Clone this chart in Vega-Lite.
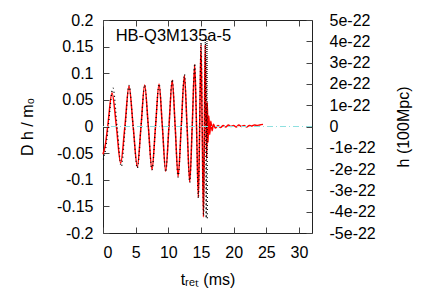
{
  "$schema": "https://vega.github.io/schema/vega-lite/v6.json",
  "width": 209,
  "height": 213,
  "autosize": {"type": "none"},
  "padding": {"left": 103, "top": 20, "right": 124, "bottom": 72},
  "background": "white",
  "config": {
    "view": {"stroke": "#222", "strokeWidth": 1},
    "font": "Liberation Sans",
    "axis": {
      "labelFont": "Liberation Sans", "labelFontSize": 16, "labelColor": "#000", "labelOverlap": false,
      "titleFont": "Liberation Sans", "titleFontSize": 16, "titleFontWeight": "normal", "titleColor": "#000",
      "domain": false, "grid": false, "tickColor": "#444", "tickSize": -6
    }
  },
  "datasets": {
    "nr": [
      {"t": 0, "h": -0.052}, {"t": 0.35, "h": -0.035}, {"t": 0.72, "h": 0}, {"t": 1.38, "h": 0.063},
      {"t": 2.05, "h": 0}, {"t": 2.7, "h": -0.069}, {"t": 3.35, "h": 0}, {"t": 3.98, "h": 0.076},
      {"t": 4.62, "h": 0}, {"t": 5.26, "h": -0.076}, {"t": 5.82, "h": 0}, {"t": 6.38, "h": 0.078},
      {"t": 6.94, "h": 0}, {"t": 7.5, "h": -0.081}, {"t": 8.04, "h": 0}, {"t": 8.58, "h": 0.08},
      {"t": 9.09, "h": 0}, {"t": 9.6, "h": -0.084}, {"t": 10.1, "h": 0}, {"t": 10.6, "h": 0.087},
      {"t": 11.05, "h": 0}, {"t": 11.5, "h": -0.094}, {"t": 11.98, "h": 0}, {"t": 12.46, "h": 0.096},
      {"t": 12.87, "h": 0}, {"t": 13.28, "h": -0.104}, {"t": 13.66, "h": 0}, {"t": 14.04, "h": 0.116},
      {"t": 14.32, "h": 0}, {"t": 14.6, "h": -0.133}, {"t": 14.8, "h": 0}, {"t": 15.0, "h": 0.154},
      {"t": 15.18, "h": 0}, {"t": 15.38, "h": -0.17}, {"t": 15.52, "h": 0}, {"t": 15.65, "h": 0.154},
      {"t": 15.78, "h": 0}, {"t": 15.88, "h": -0.06}, {"t": 15.98, "h": 0.045}, {"t": 16.08, "h": -0.03},
      {"t": 16.2, "h": 0.02}, {"t": 16.35, "h": -0.015}, {"t": 16.5, "h": 0.01}, {"t": 16.7, "h": -0.008},
      {"t": 16.9, "h": 0.004}, {"t": 17.2, "h": -0.003}, {"t": 17.6, "h": 0.002}, {"t": 18.0, "h": -0.002},
      {"t": 18.4, "h": 0.002}, {"t": 18.8, "h": -0.001}, {"t": 19.2, "h": 0.003}, {"t": 19.6, "h": 0.0},
      {"t": 20.0, "h": 0.002}, {"t": 20.4, "h": -0.001}, {"t": 20.8, "h": 0.003}, {"t": 21.2, "h": 0.0},
      {"t": 21.6, "h": 0.002}, {"t": 22.0, "h": -0.001}, {"t": 22.4, "h": 0.002}, {"t": 22.8, "h": 0.001},
      {"t": 23.2, "h": 0.003}, {"t": 23.6, "h": 0.002}, {"t": 24.0, "h": 0.003}, {"t": 24.5, "h": 0.004}
    ],
    "model": [
      {"t": 0.05, "h": -0.062}, {"t": 0.4, "h": -0.042}, {"t": 0.8, "h": 0}, {"t": 1.53, "h": 0.072},
      {"t": 2.15, "h": 0}, {"t": 2.8, "h": -0.075}, {"t": 3.4, "h": 0}, {"t": 3.98, "h": 0.077},
      {"t": 4.62, "h": 0}, {"t": 5.26, "h": -0.078}, {"t": 5.82, "h": 0}, {"t": 6.38, "h": 0.078},
      {"t": 6.94, "h": 0}, {"t": 7.5, "h": -0.081}, {"t": 8.04, "h": 0}, {"t": 8.58, "h": 0.08},
      {"t": 9.09, "h": 0}, {"t": 9.6, "h": -0.085}, {"t": 10.1, "h": 0}, {"t": 10.6, "h": 0.088},
      {"t": 11.05, "h": 0}, {"t": 11.5, "h": -0.095}, {"t": 11.98, "h": 0}, {"t": 12.46, "h": 0.098},
      {"t": 12.87, "h": 0}, {"t": 13.28, "h": -0.105}, {"t": 13.66, "h": 0}, {"t": 14.04, "h": 0.118},
      {"t": 14.32, "h": 0}, {"t": 14.6, "h": -0.135}, {"t": 14.8, "h": 0}, {"t": 15.02, "h": 0.158},
      {"t": 15.2, "h": 0}, {"t": 15.4, "h": -0.168}, {"t": 15.55, "h": 0}, {"t": 15.68, "h": 0.163},
      {"t": 15.74, "h": 0}, {"t": 15.8, "h": -0.172}, {"t": 15.86, "h": 0}, {"t": 15.92, "h": 0.165},
      {"t": 15.95, "h": 0}, {"t": 15.98, "h": -0.176}
    ]
  },
  "layer": [
    {
      "encoding": {
        "x": {"field": "t", "type": "quantitative", "scale": {"domain": [0, 32], "nice": false},
              "axis": {"orient": "bottom", "values": [0, 5, 10, 15, 20, 25, 30], "title": "tᵣₑₜ (ms)", "labelPadding": 17, "titlePadding": 11}},
        "y": {"field": "h", "type": "quantitative", "scale": {"domain": [-0.2, 0.2], "nice": false},
              "axis": {"orient": "left", "values": [-0.2, -0.15, -0.1, -0.05, 0, 0.05, 0.1, 0.15, 0.2],
                       "labelExpr": "(datum.value < 0 ? '-' : '') + format(abs(datum.value), '~g')",
                       "title": "D h / m₀", "labelPadding": 16, "titlePadding": 21}}
      },
      "layer": [
        {
          "data": {"name": "nr"},
          "mark": {"type": "line", "color": "#ff0000", "strokeWidth": 1.5, "interpolate": "monotone"}
        },
        {
          "data": {"name": "model"},
          "mark": {"type": "line", "color": "#000000", "strokeWidth": 1.3, "strokeDash": [1, 3], "interpolate": "monotone"},
          "encoding": {
            "x": {"field": "t", "type": "quantitative", "axis": null}
          }
        },
        {
          "data": {"values": [{"label": "HB-Q3M135a-5", "t": 1.94, "h": 0.16}]},
          "mark": {"type": "text", "align": "left", "baseline": "alphabetic", "fontSize": 16.5, "font": "Liberation Sans", "color": "#000"},
          "encoding": {
            "x": {"field": "t", "type": "quantitative",
                  "axis": {"orient": "top", "values": [0, 5, 10, 15, 20, 25, 30], "labels": false, "title": null}},
            "text": {"field": "label"}
          }
        }
      ],
      "resolve": {"axis": {"x": "independent"}}
    },
    {
      "data": {"values": [{"z": 0}]},
      "mark": {"type": "rule", "color": "#8ee0e0", "strokeWidth": 1, "strokeDash": [6, 3, 1, 3]},
      "encoding": {
        "y": {"field": "z", "type": "quantitative", "scale": {"domain": [-5e-22, 5e-22], "nice": false},
              "axis": {"orient": "right",
                       "values": [-5e-22, -4e-22, -3e-22, -2e-22, -1e-22, 0, 1e-22, 2e-22, 3e-22, 4e-22, 5e-22],
                       "labelExpr": "datum.value == 0 ? '\u00a00' : (datum.value < 0 ? '-' : '\u00a0') + format(abs(datum.value), '.0e')",
                       "labelAlign": "left", "labelPadding": 23,
                       "title": "h (100Mpc)", "titleAngle": 270, "titlePadding": 36}}
      }
    }
  ],
  "resolve": {"scale": {"y": "independent"}}
}
